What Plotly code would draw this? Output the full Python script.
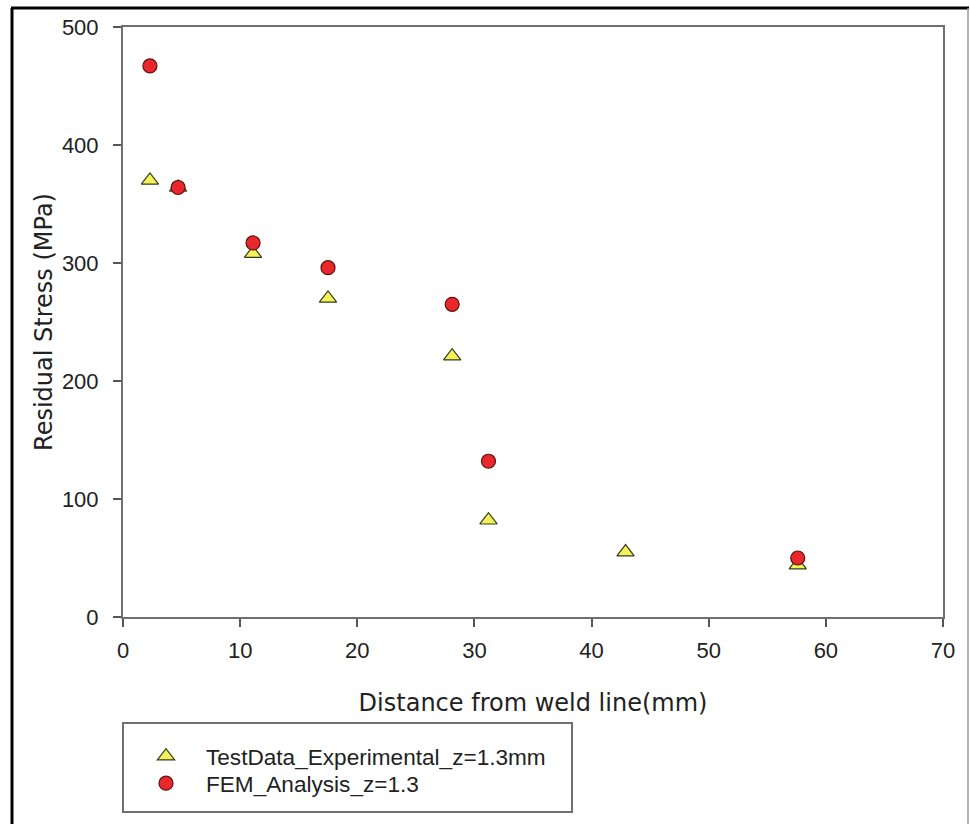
import plotly.graph_objects as go

# Experimental test data (z = 1.3 mm)
exp_x = [2.3, 4.7, 11.1, 17.5, 28.1, 31.2, 42.9, 57.6]
exp_y = [370, 364, 308, 270, 221, 82, 55, 44]

# FEM analysis (z = 1.3)
fem_x = [2.3, 4.7, 11.1, 17.5, 28.1, 31.2, 57.6]
fem_y = [467, 364, 317, 296, 265, 132, 50]

x_ticks = [0, 10, 20, 30, 40, 50, 60, 70]
y_ticks = [0, 100, 200, 300, 400, 500]

W, H = 970, 824
L, R, T, B = 123, 943, 27, 617

def px(x):
    return (x - L) / (R - L)

def py(y):
    return (B - y) / (B - T)

fig = go.Figure()
fig.add_trace(go.Scatter(
    x=exp_x, y=exp_y, mode="markers", name="TestData_Experimental_z=1.3mm",
    legend="legend",
    marker=dict(symbol="triangle-up", size=15, color="#f2f25a",
                line=dict(color="#3a3a1a", width=1.2)),
))
fig.add_trace(go.Scatter(
    x=fem_x, y=fem_y, mode="markers", name="FEM_Analysis_z=1.3",
    legend="legend2",
    marker=dict(symbol="circle", size=14, color="#e8282a",
                line=dict(color="#5a1010", width=1.2)),
))

axis_common = dict(
    showgrid=False, zeroline=False, showline=True, mirror=True,
    linecolor="#707070", linewidth=2, ticks="outside", ticklen=8,
    tickwidth=1.5, tickcolor="#555555",
    tickfont=dict(family="Liberation Sans, Arial", size=22, color="#222222"),
)

fig.update_xaxes(
    range=[0, 70], tickvals=x_ticks, ticktext=[str(v) for v in x_ticks],
    title=dict(text="Distance from weld line(mm)", standoff=32,
               font=dict(family="DejaVu Sans", size=24, color="#222222")),
    ticklabelstandoff=5,
    **axis_common,
)
fig.update_yaxes(
    range=[0, 500], tickvals=y_ticks, ticktext=[str(v) for v in y_ticks],
    title=dict(text="Residual Stress (MPa)", standoff=2,
               font=dict(family="DejaVu Sans", size=24, color="#222222")),
    ticklabelstandoff=10,
    **axis_common,
)

shapes = [
    # outer frame
    dict(type="line", xref="paper", yref="paper", x0=px(12), x1=px(12), y0=py(8), y1=py(840),
         line=dict(color="#000000", width=3)),
    dict(type="line", xref="paper", yref="paper", x0=px(11), x1=px(969), y0=py(8), y1=py(8),
         line=dict(color="#000000", width=3)),
    dict(type="line", xref="paper", yref="paper", x0=px(968), x1=px(968), y0=py(8), y1=py(840),
         line=dict(color="#9a9a9a", width=1.5)),
    # legend box
    dict(type="rect", xref="paper", yref="paper", x0=px(123), x1=px(572), y0=py(723), y1=py(812),
         line=dict(color="#707070", width=2), fillcolor="rgba(0,0,0,0)"),
]

legend_common = dict(
    xanchor="left", yanchor="top", bgcolor="rgba(0,0,0,0)", borderwidth=0,
    itemwidth=70, font=dict(family="Liberation Sans, Arial", size=22.6, color="#222222"),
)

fig.update_layout(
    width=W, height=H,
    margin=dict(l=L, r=W - R, t=T, b=H - B, autoexpand=False),
    paper_bgcolor="white", plot_bgcolor="white",
    font=dict(family="Liberation Sans, Arial", color="#222222"),
    showlegend=True,
    legend=dict(x=px(126), y=py(735), **legend_common),
    legend2=dict(x=px(126), y=py(762), **legend_common),
    shapes=shapes,
)

fig.write_html("out.html")
